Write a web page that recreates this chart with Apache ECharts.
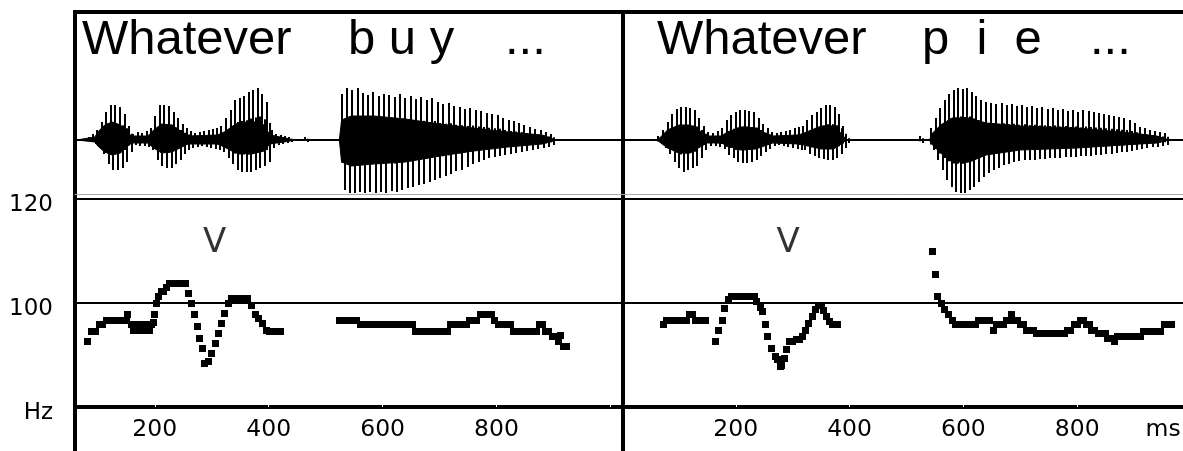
<!DOCTYPE html>
<html><head><meta charset="utf-8">
<script src="https://cdn.jsdelivr.net/npm/echarts@6/dist/echarts.min.js"></script>
<style>html,body{margin:0;padding:0;background:#fff}#c{width:1183px;height:451px}</style>
</head><body><div id="c"></div><script>
// ---------- DATA ----------
const leftRange = [60, 1022];
const rightRange = [0, 986];
const tickValues = [200, 400, 600, 800];
const leftTickMarks = [200, 400, 600, 800, 1000];
const rightLabelValues = [200, 400, 600, 800, 951];   // 951 ms carries the unit label
const unitLabel = 'ms';
const pitchTicks = [80, 100, 120];

// pitch tracks [ms, Hz]
const leftPitchWhatever = [[82,92.6],[89,94.5],[96,94.5],[103,95.8],[109,95.8],[116,96.7],[124,96.7],[133,96.7],[142,96.7],[150,96.7],[153,97.7],[159,95.8],[162,94.8],[168,94.8],[172,95.8],[176,94.8],[182,94.8],[184,95.8],[190,94.8],[195,95.8],[197,96.2],[200,97.7],[203,100.0],[206,101.2],[211,102.2],[216,102.2],[221,102.9],[226,103.8],[233,103.8],[240,103.8],[247,103.8],[254,103.8],[259,101.9],[265,99.9],[270,97.7],[275,95.4],[279,93.2],[284,91.3],[288,88.4],[294,88.7],[300,90.3],[306,92.2],[312,94.2],[318,96.1],[323,98.0],[329,99.9],[335,100.9],[342,100.9],[349,100.9],[356,100.9],[363,100.9],[370,99.6],[377,97.7],[383,97.0],[389,96.1],[396,94.8],[402,94.5],[409,94.5],[415,94.5],[420,94.5]];
const leftPitchBuy = [[525,96.7],[531,96.7],[537,96.7],[543,96.7],[549,96.7],[555,96.7],[561,95.8],[568,95.8],[575,95.8],[582,95.8],[589,95.8],[596,95.8],[603,95.8],[610,95.8],[617,95.8],[624,95.8],[631,95.8],[638,95.8],[645,95.8],[652,95.8],[658,94.5],[665,94.5],[672,94.5],[679,94.5],[686,94.5],[693,94.5],[700,94.5],[707,94.5],[714,94.5],[720,95.8],[727,95.8],[734,95.8],[741,95.8],[748,95.8],[752,96.7],[758,96.7],[765,96.7],[772,97.7],[779,97.7],[786,97.7],[792,97.7],[797,96.7],[803,95.8],[810,95.8],[817,95.8],[824,95.8],[830,94.5],[837,94.5],[844,94.5],[851,94.5],[858,94.5],[865,94.5],[871,94.5],[875,95.8],[880,95.8],[886,94.5],[892,94.5],[898,93.5],[903,93.5],[908,92.6],[912,93.8],[917,91.6],[923,91.6]];
const rightPitchWhatever = [[73,95.8],[78,96.7],[84,96.7],[90,96.7],[96,96.7],[102,96.7],[108,96.7],[114,96.7],[119,97.7],[124,97.7],[130,96.7],[136,96.7],[142,96.7],[146,96.7],[164,92.6],[170,94.8],[176,96.7],[181,99.0],[187,100.6],[192,101.2],[198,101.2],[204,101.2],[210,101.2],[216,101.2],[222,101.2],[228,101.2],[233,101.2],[237,100.3],[243,99.2],[247,98.3],[252,95.8],[256,93.5],[263,91.3],[269,89.7],[274,89.2],[278,87.8],[280,88.0],[285,89.4],[289,91.0],[294,92.6],[300,92.6],[306,92.9],[312,92.9],[317,93.5],[322,94.8],[328,96.1],[334,97.4],[340,98.7],[345,99.6],[350,99.6],[355,98.5],[360,97.4],[365,96.5],[370,95.8],[375,95.8],[379,95.8]];
const rightPitchPie = [[546,109.9],[551,105.4],[555,101.2],[561,99.9],[567,98.7],[574,97.7],[580,96.7],[587,95.8],[593,95.8],[599,95.8],[605,95.8],[611,95.8],[617,95.8],[622,95.8],[627,96.7],[633,96.7],[640,96.7],[646,96.7],[653,94.8],[658,95.8],[664,95.8],[670,95.8],[675,96.7],[680,96.7],[685,97.7],[690,96.7],[695,96.7],[700,95.8],[705,95.8],[711,94.8],[717,94.8],[723,94.8],[729,94.2],[735,94.2],[741,94.2],[747,94.2],[753,94.2],[759,94.2],[765,94.2],[771,94.2],[777,94.2],[783,94.8],[789,94.8],[795,95.8],[801,95.8],[806,96.7],[811,96.7],[816,95.8],[821,95.8],[826,94.8],[831,94.8],[837,94.2],[843,94.2],[849,94.2],[854,93.2],[859,93.2],[865,92.6],[870,93.5],[876,93.5],[882,93.5],[888,93.5],[894,93.5],[900,93.5],[906,93.5],[911,93.5],[917,94.5],[923,94.5],[929,94.5],[935,94.5],[941,94.5],[947,94.5],[953,95.8],[959,95.8],[965,95.8]];

// stress marks "V" [ms, Hz]
const leftStress = [305, 111.6];
const rightStress = [292, 111.6];

// waveform pulses [ms, positive peak, negative peak]
const leftPulsesWhatever = [[85,3,2],[92,6,4],[99,10,8],[107,18,14],[115,28,24],[123,35,30],[131,35,30],[139,33,28],[147,26,22],[155,14,12],[162,6,5],[170,8,6],[178,7,6],[186,9,7],[193,12,10],[201,24,20],[209,35,26],[217,35,28],[225,34,28],[233,28,24],[241,22,20],[249,16,14],[256,12,10],[263,9,8],[271,7,7],[279,8,6],[287,9,7],[295,10,8],[303,11,9],[310,12,10],[317,14,12],[325,22,18],[333,30,24],[341,40,30],[349,42,32],[357,44,32],[365,48,32],[373,50,30],[381,52,28],[389,46,26],[397,38,22],[405,10,8],[413,6,5],[421,5,4],[429,4,3],[436,3,2],[464,3,2]];
const leftPulsesBuy = [[529,46,50],[538,52,53],[547,50,53],[556,52,52],[565,47,53],[574,45,52],[584,48,53],[593,44,52],[602,46,53],[612,45,51],[621,43,52],[630,46,50],[640,42,48],[649,44,47],[659,41,45],[668,43,44],[678,40,42],[687,42,40],[697,38,38],[706,36,36],[716,37,34],[725,34,31],[735,33,30],[745,31,27],[754,32,24],[764,30,22],[773,29,20],[783,27,18],[792,26,17],[802,25,16],[811,22,15],[821,20,14],[830,19,13],[840,17,12],[849,15,11],[859,13,10],[868,11,9],[878,10,8],[887,8,7],[896,6,5]];
const rightPulsesWhatever = [[64,4,3],[72,10,8],[80,18,14],[88,26,22],[96,31,28],[104,33,32],[112,33,30],[120,32,28],[128,30,26],[136,22,18],[144,14,10],[152,8,6],[160,7,6],[168,9,7],[176,12,9],[184,20,15],[192,25,18],[200,28,22],[208,30,23],[216,30,23],[224,29,22],[232,28,20],[240,22,16],[248,16,12],[256,12,9],[264,8,6],[272,7,5],[280,8,6],[288,9,7],[296,10,8],[304,12,9],[311,13,10],[318,14,10],[326,20,14],[334,25,16],[342,28,18],[350,32,19],[358,35,20],[366,35,20],[374,33,18],[382,26,14],[389,14,8],[394,4,3]];
const rightPulsesPie = [[524,4,3],[543,12,10],[551,22,20],[559,32,30],[567,40,40],[575,46,47],[583,50,52],[591,52,53],[599,51,53],[607,52,50],[615,48,47],[623,44,42],[631,40,37],[640,38,33],[649,37,30],[658,36,28],[667,37,25],[676,35,24],[685,36,22],[694,34,21],[703,35,20],[712,33,20],[721,34,20],[730,32,19],[739,33,19],[748,31,18],[757,32,18],[766,30,18],[775,31,17],[784,29,17],[793,30,17],[802,28,16],[811,30,16],[820,29,16],[829,28,15],[838,27,15],[847,26,14],[856,25,14],[865,24,13],[874,23,12],[883,22,12],[892,20,11],[901,17,10],[910,13,9],[919,12,8],[928,10,7],[937,9,7],[946,8,6],[955,7,5]];

// solid waveform core [ms, upper, lower]
const leftCore = [[63,0,0],[95,3,2],[100,8,6],[112,15,12],[125,18,15],[140,15,13],[152,7,6],[160,4,3],[188,4,3],[198,10,8],[212,16,13],[230,15,12],[248,8,7],[258,4,4],[310,5,4],[322,8,7],[342,16,13],[370,19,14],[392,15,11],[402,5,4],[438,1,1],[442,0,0],[524,0,0],[528,20,22],[545,24,26],[585,24,24],[640,21,22],[700,16,16],[760,12,11],[820,8,7],[880,5,4],[900,1,1],[904,0,0]];
const rightCore = [[60,0,0],[66,2,2],[80,10,8],[100,15,13],[120,15,13],[140,8,6],[150,4,3],[175,4,3],[185,8,6],[210,13,10],[235,12,9],[255,6,5],[265,4,3],[310,5,4],[320,7,5],[350,14,9],[372,14,9],[388,5,3],[394,0,0],[540,0,0],[546,7,5],[560,15,13],[580,22,22],[610,22,22],[640,17,15],[700,14,10],[800,12,8],[880,8,5],[940,4,3],[962,0,0]];

// words
const leftWords = ['Whatever', 'b u y', '...'];
const rightWords = ['Whatever', 'p  i  e', '...'];

// ---------- CHART ----------
const AXF = 'DejaVu Sans';
const chart = echarts.init(document.getElementById('c'), null, {renderer: 'canvas'});

function spikeRender(params, api) {
  const t = api.value(0), up = api.value(1), dn = api.value(2);
  const a1 = api.coord([t, up]), a2 = api.coord([t, -dn * 0.45]);
  const b1 = api.coord([t + 4.5, -dn]), b2 = api.coord([t + 4.5, up * 0.45]);
  const xa = Math.round(a1[0]), xb = Math.round(b1[0]);
  const st = {stroke: '#000', lineWidth: 2};
  return {type: 'group', children: [
    {type: 'line', shape: {x1: xa, y1: a1[1], x2: xa, y2: a2[1]}, style: st},
    {type: 'line', shape: {x1: xb, y1: b1[1], x2: xb, y2: b2[1]}, style: st}
  ]};
}
function dotRender(params, api) {
  const p = api.coord([api.value(0), api.value(1)]);
  return {type: 'rect', shape: {x: Math.round(p[0] - 3.5), y: Math.round(p[1] - 3.5), width: 7, height: 7},
    style: {fill: '#000'}};
}
const hidden = (gi) => ({gridIndex: gi, type: 'value', show: false, min: 0, max: 1});
function coreSeries(xi, yi, core, sign) {
  return {type: 'line', xAxisIndex: xi, yAxisIndex: yi, silent: true, symbol: 'none',
    data: core.map(d => [d[0], sign > 0 ? d[1] : -d[2]]),
    lineStyle: {color: '#000', width: 1}, areaStyle: {color: '#000', opacity: 1}};
}
function pulseSeries(xi, yi, data) {
  return {type: 'custom', xAxisIndex: xi, yAxisIndex: yi, silent: true, renderItem: spikeRender,
    encode: {x: 0, y: [1, 2]}, data: data};
}
function pitchSeries(xi, yi, data) {
  return {type: 'custom', xAxisIndex: xi, yAxisIndex: yi, silent: true, renderItem: dotRender,
    encode: {x: 0, y: 1}, data: data};
}
function stressSeries(xi, yi, pt) {
  return {type: 'scatter', xAxisIndex: xi, yAxisIndex: yi, silent: true, symbolSize: 1,
    itemStyle: {color: 'rgba(0,0,0,0)'}, data: [pt],
    label: {show: true, position: 'inside', formatter: 'V', fontFamily: AXF, fontSize: 34, color: '#000'}};
}
function waveX(gi, range) {
  return [
    {gridIndex: gi, type: 'value', min: range[0], max: range[1], position: 'top',
      axisLine: {onZero: true, lineStyle: {color: '#000', width: 2}},
      axisTick: {show: false}, axisLabel: {show: false}, splitLine: {show: false}},
    {gridIndex: gi, type: 'value', min: range[0], max: range[1], position: 'bottom',
      axisLine: {onZero: false, lineStyle: {color: '#aaa', width: 1}},
      axisTick: {show: false}, axisLabel: {show: false}, splitLine: {show: false}}
  ];
}
function pitchX(gi, range, ticks, labels) {
  return {gridIndex: gi, type: 'value', min: range[0], max: range[1],
    axisLine: {onZero: false, lineStyle: {color: '#000', width: 4}},
    axisTick: {show: true, inside: true, length: 2, customValues: ticks, lineStyle: {color: '#fff', width: 1}},
    axisLabel: {customValues: labels, margin: 11, fontFamily: AXF, fontSize: 23.5, color: '#000',
      formatter: v => tickValues.indexOf(v) >= 0 ? String(v) : unitLabel},
    splitLine: {show: false}};
}
function pitchY(gi, labels) {
  return {gridIndex: gi, type: 'value', min: pitchTicks[0], max: pitchTicks[2], interval: 20,
    axisLine: {show: false}, axisTick: {show: false},
    axisLabel: {show: labels, margin: 22, fontFamily: AXF, fontSize: 23, color: '#000',
      verticalAlign: 'top', lineHeight: 12,
      formatter: v => v === pitchTicks[0] ? 'Hz' : String(v)},
    splitLine: {show: true, lineStyle: {color: '#000', width: 2}}};
}
const grids = [
  {left: 75, top: 12, width: 548, height: 600, show: true, borderColor: '#000', borderWidth: 4, backgroundColor: 'transparent'},
  {left: 623, top: 12, width: 700, height: 600, show: true, borderColor: '#000', borderWidth: 4, backgroundColor: 'transparent'},
  {left: 75, top: 12, width: 548, height: 182},
  {left: 75, top: 199, width: 548, height: 208},
  {left: 622, top: 12, width: 561, height: 182},
  {left: 622, top: 199, width: 561, height: 208}
].map(g => Object.assign({outerBoundsMode: 'none', containLabel: false}, g));

const wordFont = '49px "Liberation Sans", Arial, sans-serif';
function word(text, x) {
  return {type: 'text', x: x, y: 40, silent: true,
    style: {text: text, font: wordFont, fill: '#000', align: 'left', verticalAlign: 'middle'}};
}

const option = {
  animation: false,
  backgroundColor: '#fff',
  grid: grids,
  xAxis: [
    hidden(0), hidden(1),
    ...waveX(2, leftRange),
    pitchX(3, leftRange, leftTickMarks, tickValues),
    ...waveX(4, rightRange),
    pitchX(5, rightRange, tickValues, rightLabelValues)
  ],
  yAxis: [
    hidden(0), hidden(1),
    {gridIndex: 2, type: 'value', min: -54, max: 128, show: false},
    pitchY(3, true),
    {gridIndex: 4, type: 'value', min: -54, max: 128, show: false},
    pitchY(5, false)
  ],
  series: [
    coreSeries(2, 2, leftCore, 1), coreSeries(2, 2, leftCore, -1),
    pulseSeries(2, 2, leftPulsesWhatever), pulseSeries(2, 2, leftPulsesBuy),
    pitchSeries(4, 3, leftPitchWhatever), pitchSeries(4, 3, leftPitchBuy),
    stressSeries(4, 3, leftStress),
    coreSeries(5, 4, rightCore, 1), coreSeries(5, 4, rightCore, -1),
    pulseSeries(5, 4, rightPulsesWhatever), pulseSeries(5, 4, rightPulsesPie),
    pitchSeries(7, 5, rightPitchWhatever), pitchSeries(7, 5, rightPitchPie),
    stressSeries(7, 5, rightStress)
  ],
  graphic: [
    word(leftWords[0], 82), word(leftWords[1], 348), word(leftWords[2], 505),
    word(rightWords[0], 657), word(rightWords[1], 922), word(rightWords[2], 1090)
  ]
};
chart.setOption(option);
</script></body></html>
